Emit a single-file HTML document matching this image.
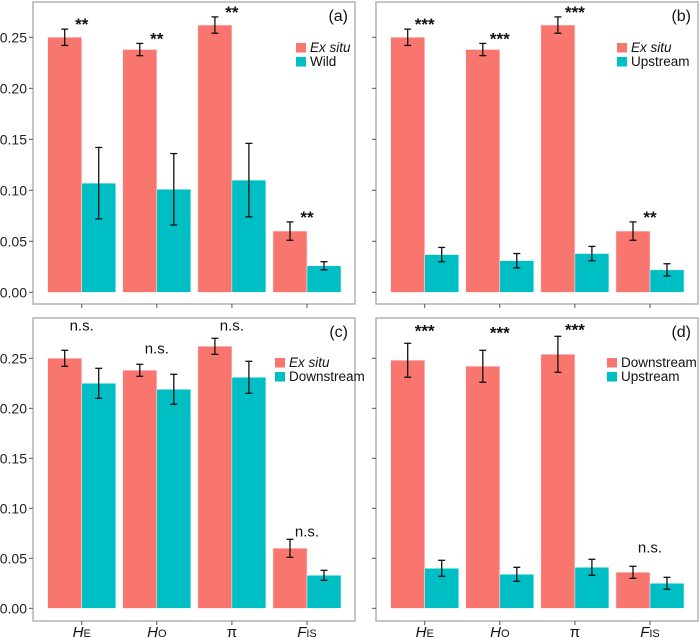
<!DOCTYPE html>
<html><head><meta charset="utf-8"><style>
html,body{margin:0;padding:0;background:#fff;}
svg{display:block;font-family:"Liberation Sans",Arial,sans-serif;}
</style></head><body>
<svg id="chart" width="700" height="638" viewBox="0 0 700 638" xmlns="http://www.w3.org/2000/svg"></svg>
<script>
const categories = ["HE","HO","π","FIS"];
const exsitu = [0.250,0.238,0.262,0.060];
const exsituErr = [0.008,0.006,0.008,0.009];
const wild = [0.107,0.101,0.110,0.026];
const wildErr = [0.035,0.035,0.036,0.004];
const upstream = [0.037,0.031,0.038,0.022];
const upstreamErr = [0.007,0.007,0.007,0.006];
const downstream = [0.225,0.219,0.231,0.033];
const downstreamErr = [0.015,0.015,0.016,0.005];
const downD = [0.248,0.242,0.254,0.036];
const downDErr = [0.017,0.016,0.018,0.006];
const upD = [0.040,0.034,0.041,0.025];
const upDErr = [0.008,0.007,0.008,0.006];
const yTicks = [0,0.05,0.10,0.15,0.20,0.25];
const yTickLabels = ["0.00","0.05","0.10","0.15","0.20","0.25"];
const sigA = ["**","**","**","**"];
const sigB = ["***","***","***","**"];
const sigC = ["n.s.","n.s.","n.s.","n.s."];
const sigCpos = [0.284,0.261,0.284,0.078];
const sigD = ["***","***","***","n.s."];
const sigDpos = [0.282,0.280,0.283,0.062];

const RED="#F8766D", TEAL="#00BFC4";
const NS="http://www.w3.org/2000/svg";
const svg=document.getElementById('chart');
function mk(tag,attrs,parent){const e=document.createElementNS(NS,tag);for(const k in attrs)e.setAttribute(k,attrs[k]);(parent||svg).appendChild(e);return e;}

const panels=[
 {id:'a',x0:33,x1:355,y0:2,y1:304,zero:292.3,ppu:1020,yl:true,s1:exsitu,e1:exsituErr,s2:wild,e2:wildErr,n1:"Ex situ",i1:true,n2:"Wild",sig:sigA,sigpos:null,legX:296,legY:43,xl:false},
 {id:'b',x0:376,x1:698,y0:2,y1:304,zero:292.3,ppu:1020,yl:false,s1:exsitu,e1:exsituErr,s2:upstream,e2:upstreamErr,n1:"Ex situ",i1:true,n2:"Upstream",sig:sigB,sigpos:null,legX:617,legY:43,xl:false},
 {id:'c',x0:33,x1:355,y0:318,y1:621,zero:608.3,ppu:1000,yl:true,s1:exsitu,e1:exsituErr,s2:downstream,e2:downstreamErr,n1:"Ex situ",i1:true,n2:"Downstream",sig:sigC,sigpos:sigCpos,legX:275,legY:358,xl:true},
 {id:'d',x0:376,x1:698,y0:318,y1:621,zero:608.3,ppu:1000,yl:false,s1:downD,e1:downDErr,s2:upD,e2:upDErr,n1:"Downstream",i1:false,n2:"Upstream",sig:sigD,sigpos:sigDpos,legX:607,legY:358,xl:true}
];
const bw=34, gap=75.1;
panels.forEach(p=>{
  const g=mk('g',{});
  
  
  const y=v=>p.zero-v*p.ppu;
  const cx=i=>p.x0+48.7+gap*i;
  const frame=mk('rect',{x:p.x0,y:p.y0,width:p.x1-p.x0,height:p.y1-p.y0,fill:'none',stroke:'#b3b3b3','stroke-width':1.5},g);
  
  
  yTicks.forEach((t,k)=>{
    mk('line',{x1:p.x0-4,x2:p.x0,y1:y(t),y2:y(t),stroke:'#555','stroke-width':1},g);
    if(p.yl){const tl=mk('text',{x:p.x0-6,y:y(t)+5,'text-anchor':'end','font-size':14,fill:'#222'},g);tl.textContent=yTickLabels[k];
      
      }
  });
  categories.forEach((c,i)=>{
    mk('line',{x1:cx(i),x2:cx(i),y1:p.y1,y2:p.y1+4,stroke:'#555','stroke-width':1},g);
    const b1=mk('rect',{x:cx(i)-bw,y:y(p.s1[i]),width:bw,height:p.s1[i]*p.ppu,fill:RED,stroke:'#fde',"stroke-width":0.5},g);
    
    
    const b2=mk('rect',{x:cx(i),y:y(p.s2[i]),width:bw,height:p.s2[i]*p.ppu,fill:TEAL,stroke:'#dff',"stroke-width":0.5},g);
    
    
    [[p.s1,p.e1,cx(i)-bw/2],[p.s2,p.e2,cx(i)+bw/2]].forEach(([s,e,x])=>{
      const eg=mk('g',{stroke:'#111','stroke-width':1.3},g);
      
      
      mk('line',{x1:x,x2:x,y1:y(s[i]-e[i]),y2:y(s[i]+e[i])},eg);
      mk('line',{x1:x-3.5,x2:x+3.5,y1:y(s[i]-e[i]),y2:y(s[i]-e[i])},eg);
      mk('line',{x1:x-3.5,x2:x+3.5,y1:y(s[i]+e[i]),y2:y(s[i]+e[i])},eg);
    });
    const sy=p.sigpos?y(p.sigpos[i]):y(p.s1[i]+p.e1[i])-9;
    const isStar=p.sig[i].indexOf('*')>=0;
    const st=mk('text',{x:cx(i),y:sy+(isStar?10:6),'text-anchor':'middle','font-size':isStar?17:15,'font-weight':isStar?'bold':'normal',fill:'#111'},g);
    st.textContent=p.sig[i];
    
    
    if(p.xl){
      const xt=mk('text',{x:cx(i),y:p.y1+16,'text-anchor':'middle','font-size':15,fill:'#111'},g);
      
      
      if(c==="π"){xt.textContent="π";}
      else{
        const m=mk('tspan',{'font-style':'italic'},xt);m.textContent=c[0];
        const s=mk('tspan',{'font-size':11},xt);s.textContent=c.slice(1);
      }
    }
  });
  const lab=mk('text',{x:p.x1-7,y:p.y0+19,'text-anchor':'end','font-size':16,fill:'#111'},g);
  lab.textContent='('+p.id+')';
  
  
  [[RED,p.n1,p.i1,0],[TEAL,p.n2,false,14]].forEach(([col,n,it,dy])=>{
    const lg=mk('g',{},g);
    
    
    mk('rect',{x:p.legX,y:p.legY+dy,width:10,height:9.5,fill:col},lg);
    const t=mk('text',{x:p.legX+14,y:p.legY+dy+9,'font-size':13.5,fill:'#111'},lg);
    if(it)t.setAttribute('font-style','italic');
    t.textContent=n;
  });
});
</script>
</body></html>
